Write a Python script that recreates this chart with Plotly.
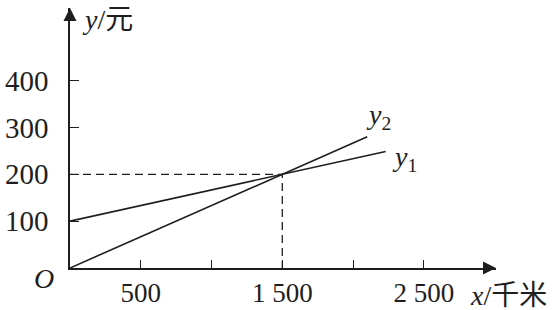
import plotly.graph_objects as go

# Data
x_line = [0, 2230]
y1_vals = [100, 248.7]
x_line2 = [0, 2100]
y2_vals = [0, 280]
meet_x = 1500
meet_y = 200
x_ticks = [500, 1500, 2500]
x_tick_text = ["500", "1 500", "2 500"]
x_minor_ticks = [1000, 2000]
y_ticks = [100, 200, 300, 400]
y_tick_text = ["100", "200", "300", "400"]

FONT = "Liberation Serif, Noto Sans CJK SC, serif"
INK = "#1e1e1e"
XMAX = 3010
YMAX = 555
FS = 29
FX = 27
FA = 28

fig = go.Figure()
fig.add_trace(go.Scatter(x=x_line, y=y1_vals, mode="lines",
                         line=dict(color=INK, width=1.6), showlegend=False))
fig.add_trace(go.Scatter(x=x_line2, y=y2_vals, mode="lines",
                         line=dict(color=INK, width=1.6), showlegend=False))
# dashed guides
fig.add_trace(go.Scatter(x=[0, meet_x, meet_x], y=[meet_y, meet_y, 0], mode="lines",
                         line=dict(color=INK, width=1.3, dash="8px,5px"), showlegend=False))
# axis arrowheads
fig.add_trace(go.Scatter(x=[XMAX], y=[0], mode="markers", cliponaxis=False,
                         marker=dict(symbol="arrow-right", size=13, color=INK,
                                     line=dict(width=0)),
                         showlegend=False))
fig.add_trace(go.Scatter(x=[0], y=[YMAX], mode="markers", cliponaxis=False,
                         marker=dict(symbol="arrow-up", size=13, color=INK,
                                     line=dict(width=0)),
                         showlegend=False))

fig.update_xaxes(range=[0, XMAX], showline=True, linecolor=INK, linewidth=1.6,
                 ticks="inside", ticklen=8, tickwidth=1.3, tickcolor=INK,
                 tickvals=x_ticks, ticktext=x_tick_text, showgrid=False, zeroline=False,
                 ticklabelstandoff=0, automargin=False,
                 minor=dict(tickvals=x_minor_ticks, ticks="inside", ticklen=8,
                            tickwidth=1.3, tickcolor=INK, showgrid=False),
                 tickfont=dict(family=FONT, size=FX, color=INK))
fig.update_yaxes(range=[0, YMAX], showline=True, linecolor=INK, linewidth=1.6,
                 ticks="inside", ticklen=9, tickwidth=1.3, tickcolor=INK,
                 tickvals=y_ticks, ticktext=y_tick_text, showgrid=False, zeroline=False,
                 ticklabelstandoff=14, automargin=False,
                 tickfont=dict(family=FONT, size=FS, color=INK))

anns = [
    dict(x=0, y=0, text="<i>O</i>", xanchor="right", yanchor="middle", xshift=-14, yshift=-10),
    dict(x=0, y=YMAX, text="<i>y</i>/元", xanchor="left", yanchor="middle", xshift=10, yshift=-11),
    dict(x=XMAX, y=0, text="<i>x</i>/千米", xanchor="left", yanchor="middle", xshift=-28, yshift=-27),
    dict(x=x_line2[1], y=y2_vals[1], text="<i>y</i><sub>2</sub>", xanchor="left", yanchor="bottom", xshift=-3, yshift=1),
    dict(x=x_line[1], y=y1_vals[1], text="<i>y</i><sub>1</sub>", xanchor="left", yanchor="middle", xshift=4, yshift=-7),
]
for a in anns:
    a.update(showarrow=False, font=dict(family=FONT, size=FA, color=INK))
fig.update_layout(annotations=anns)

fig.update_layout(width=558, height=310, margin=dict(l=70, r=62, t=8, b=42),
                  plot_bgcolor="white", paper_bgcolor="white")
fig.write_html("out.html")
